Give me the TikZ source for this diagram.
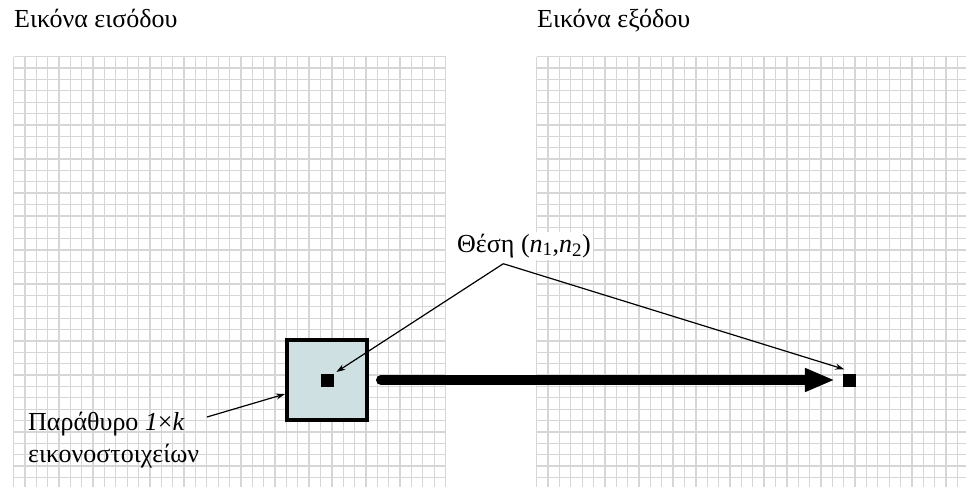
\documentclass[tikz,border=0pt]{standalone}
\usepackage{fontspec}
\setmainfont{Liberation Serif}
\usetikzlibrary{arrows.meta}

\begin{document}
\begin{tikzpicture}[x=1pt,y=-1pt,>={Stealth[length=9pt,width=6pt]}, font=\fontsize{26}{32}\selectfont, line join=miter]
	\def\cell{11.37}
	\colorlet{grid line}{black!16}
	\definecolor{window area}{RGB}{206,224,226}
	\tikzset{gridline/.style={draw=grid line, line width=1.3pt},
	window/.style={draw=black, line width=4pt, fill=window area, minimum size=80pt, inner sep=0pt},
	pixel/.style={fill=black, minimum size=13pt, inner sep=0pt},
	label text/.style={inner sep=0pt},
	pointer/.style={->, line width=1.2pt}}
	\useasboundingbox (0,0) rectangle (966,487);
	%
	\begin{scope}
		\clip (0,0) rectangle (966,487);
		\foreach \i in {0,...,38} \draw[gridline] (13.5+\i*\cell,56.7) -- (13.5+\i*\cell,490);
		\foreach \j in {0,...,38} \draw[gridline] (13.5,56.7+\j*\cell) -- (445.6,56.7+\j*\cell);
		\foreach \i in {0,...,38} \draw[gridline] (536.7+\i*\cell,56.7) -- (536.7+\i*\cell,490);
		\foreach \j in {0,...,38} \draw[gridline] (536.7,56.7+\j*\cell) -- (970,56.7+\j*\cell);
	\end{scope}
	%
	\node[label text, anchor=base west] (inTitle) at (14,27.7) {Εικόνα εισόδου};
	\node[label text, anchor=base west] (outTitle) at (537,27.7) {Εικόνα εξόδου};
	\node[window] (win) at (327,380) {};
	\node[pixel] (pin) at (win) {};
	\node[pixel] (pout) at (849,380) {};
	\node[anchor=base west, fill=white, inner sep=2pt] (pos) at (455,252) {Θέση (\textit{n}\textsubscript{\fontsize{19}{20}\selectfont 1},\textit{n}\textsubscript{\fontsize{19}{20}\selectfont 2})};
	\node[label text, anchor=north west, align=left] (winLabel) at (28,412) {Παράθυρο \textit{1}×\textit{k}\\εικονοστοιχείων};
	%
	\coordinate (apex) at (503.3,263.7);
	\coordinate (winTail) at (207,417);
	\draw[pointer] (apex) -- ([shift={(2.7,-1.3)}]pin.north east);
	\draw[pointer] (apex) -- ([shift={(2,-4)}]pout.north west);
	\draw[pointer] (winTail) -- ([shift={(0,14)}]win.west);
	\draw[line width=10pt, line cap=round, -{Triangle[length=30pt,width=22pt]}] ([xshift=12pt]win.east) -- ([xshift=-7.5pt]pout.west);
\end{tikzpicture}
\end{document}
